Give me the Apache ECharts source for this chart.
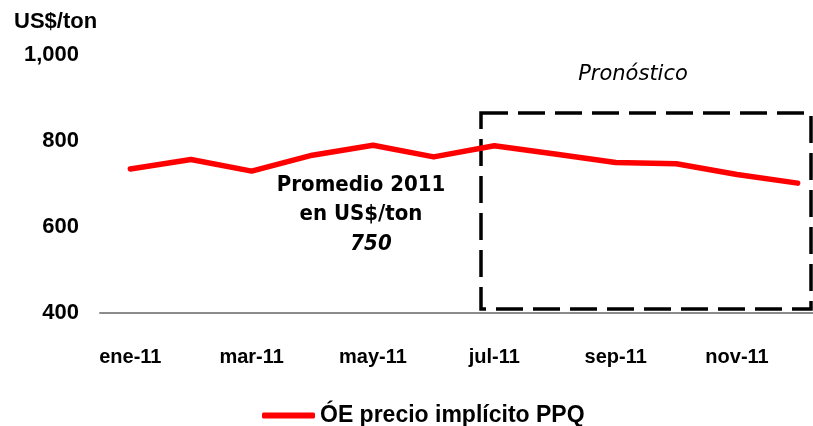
<!DOCTYPE html>
<html>
<head>
<meta charset="utf-8">
<script src="https://cdn.jsdelivr.net/npm/echarts@6/dist/echarts.min.js"></script>
<style>
html,body{margin:0;padding:0;background:#fff;}
#chart{width:813px;height:426px;}
</style>
</head>
<body>
<div id="chart"></div>
<script>
const categories = ['ene-11','feb-11','mar-11','abr-11','may-11','jun-11','jul-11','ago-11','sep-11','oct-11','nov-11','dic-11'];
const ppqValues = [735, 757, 730, 767, 790, 763, 789, 770, 750, 747, 722, 702];
const seriesName = 'ÓE precio implícito PPQ';
const yTicks = [400, 600, 800, 1000];

const chart = echarts.init(document.getElementById('chart'));
const axisFont = 'Liberation Sans, Arial, sans-serif';
const noteFont = 'DejaVu Sans Condensed, DejaVu Sans, sans-serif';

chart.setOption({
  backgroundColor: '#ffffff',
  animation: false,
  grid: { left: 100, top: 55, width: 728, height: 258, outerBoundsMode: 'none', containLabel: false },
  xAxis: {
    type: 'category',
    data: categories,
    boundaryGap: true,
    axisLine: { show: true, lineStyle: { color: '#8c8c8c', width: 2 } },
    axisTick: { show: false },
    axisLabel: { interval: 1, margin: 34, color: '#000', fontFamily: axisFont, fontWeight: 'bold', fontSize: 20 }
  },
  yAxis: {
    type: 'value',
    min: yTicks[0],
    max: yTicks[yTicks.length - 1],
    interval: 200,
    splitLine: { show: false },
    axisLine: { show: false },
    axisTick: { show: false },
    axisLabel: {
      margin: 21, color: '#000', fontFamily: axisFont, fontWeight: 'bold', fontSize: 22,
      formatter: v => v.toLocaleString('en-US')
    }
  },
  legend: {
    data: [{ name: seriesName, icon: 'roundRect' }],
    left: 257, top: 399,
    itemWidth: 53, itemHeight: 6,
    textStyle: { color: '#000', fontFamily: axisFont, fontWeight: 'bold', fontSize: 23 }
  },
  series: [{
    name: seriesName,
    type: 'line',
    data: ppqValues,
    showSymbol: false,
    symbol: 'none',
    color: '#ff0000',
    lineStyle: { color: '#ff0000', width: 5.5, cap: 'round', join: 'round' }
  }],
  graphic: [
    { type: 'text', left: 14, top: 11, style: { text: 'US$/ton', fill: '#000', font: 'bold 22px ' + axisFont } },
    { type: 'rect', shape: { x: 481, y: 113, width: 330, height: 196 },
      style: { fill: 'none', stroke: '#000', lineWidth: 3.5, lineDash: [27, 10] } },
    { type: 'text', x: 633, y: 75, style: { text: 'Pronóstico', fill: '#000', font: 'italic 21px DejaVu Sans, sans-serif', align: 'center', verticalAlign: 'middle' } },
    { type: 'text', x: 361, y: 185, style: { text: 'Promedio 2011', fill: '#000', font: 'bold 22px ' + noteFont, align: 'center', verticalAlign: 'middle' } },
    { type: 'text', x: 361, y: 214, style: { text: 'en US$/ton', fill: '#000', font: 'bold 22px ' + noteFont, align: 'center', verticalAlign: 'middle' } },
    { type: 'text', x: 371, y: 244, style: { text: '750', fill: '#000', font: 'italic bold 22px ' + noteFont, align: 'center', verticalAlign: 'middle' } }
  ]
});
</script>
</body>
</html>
